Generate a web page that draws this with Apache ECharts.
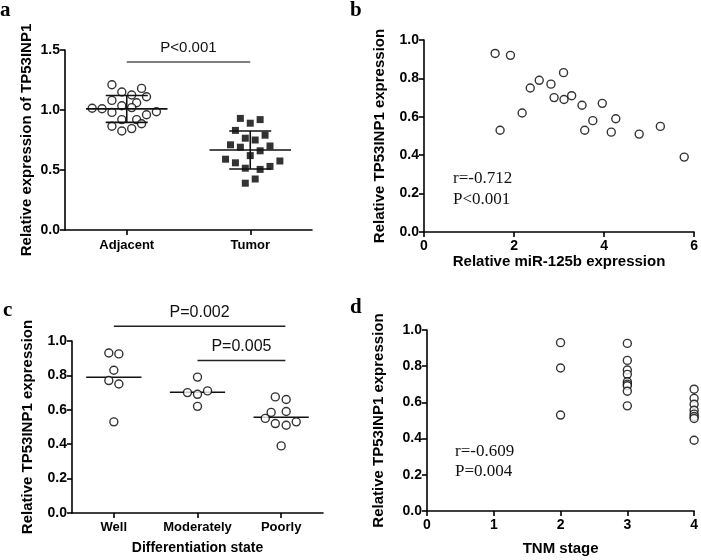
<!DOCTYPE html>
<html><head><meta charset="utf-8">
<script src="https://cdn.jsdelivr.net/npm/echarts@6/dist/echarts.min.js"></script>
<style>html,body{margin:0;padding:0;background:#fff}#chart{width:701px;height:560px}</style>
</head><body><div id="chart"></div>
<script>
// ---------- Panel a ----------
const aCategories = ['Adjacent', 'Tumor'];
const aAdjacentX = [0.88,0.96,1.04,1.12,1.16,0.88,1.08,0.72,0.80,0.96,1.04,1.24,0.88,1.16,0.96,1.08,0.88,1.12,1.04,0.96];
const aAdjacentY = [1.21,1.15,1.125,1.18,1.11,1.08,1.06,1.015,1.01,1.035,1.02,0.985,0.98,0.96,0.92,0.92,0.865,0.885,0.845,0.825];
const aTumorX = [1.92,2.00,2.08,1.88,2.12,1.96,2.04,1.84,1.92,2.16,2.08,2.00,1.80,1.88,2.24,1.96,2.08,2.16,1.96,2.04];
const aTumorY = [0.93,0.89,0.92,0.83,0.79,0.765,0.75,0.71,0.69,0.70,0.66,0.62,0.59,0.56,0.575,0.515,0.505,0.53,0.39,0.425];
const aPLabel = 'P<0.001';

// ---------- Panel b ----------
const bMiR = [1.58,1.92,1.69,2.18,2.36,2.56,2.82,2.89,3.10,3.11,3.28,3.51,3.57,3.75,3.96,4.16,4.26,4.78,5.25,5.78];
const bTP53 = [0.93,0.92,0.53,0.62,0.75,0.79,0.77,0.70,0.83,0.69,0.71,0.66,0.53,0.58,0.67,0.52,0.59,0.51,0.55,0.39];
const bStats = ['r=-0.712', 'P<0.001'];

// ---------- Panel c ----------
const cCategories = ['Well', 'Moderately', 'Poorly'];
const cWellX = [-0.06,0.06,0,-0.06,0.06,0];
const cWellY = [0.93,0.925,0.83,0.77,0.75,0.53];
const cModX = [0,-0.12,0,0.12,0];
const cModY = [0.79,0.70,0.69,0.71,0.62];
const cPoorX = [-0.07,0.06,-0.12,0.06,-0.19,-0.07,0.06,0.18,0];
const cPoorY = [0.675,0.66,0.585,0.59,0.55,0.52,0.51,0.53,0.39];
const cPLabels = ['P=0.002', 'P=0.005'];

// ---------- Panel d ----------
const dStage2 = [0.93,0.79,0.53];
const dStage3 = [0.926,0.832,0.779,0.755,0.714,0.701,0.692,0.662,0.581];
const dStage4 = [0.673,0.622,0.590,0.557,0.535,0.522,0.511,0.391];
const dStats = ['r=-0.609', 'P=0.004'];

// ---------- helpers ----------
const SANS = 'Liberation Sans, Arial, sans-serif';
const SERIF = 'Liberation Serif, Times New Roman, serif';
const zip = (xs, ys) => xs.map((x, i) => [x, ys[i]]);
const mean = a => a.reduce((s, v) => s + v, 0) / a.length;
const sd = a => { const m = mean(a); return Math.sqrt(a.reduce((s, v) => s + (v - m) * (v - m), 0) / (a.length - 1)); };

const axisLine = { show: true, onZero: false, lineStyle: { color: '#000', width: 1.6 } };
const axisTick = { show: true, inside: false, length: 5, lineStyle: { color: '#000', width: 1.6 } };
const tickLabel = { color: '#000', fontFamily: SANS, fontWeight: 'bold', fontSize: 13 };
const numLabel = Object.assign({}, tickLabel, { fontSize: 14 });
const nameStyle = { color: '#000', fontFamily: SANS, fontWeight: 'bold', fontSize: 15 };

function valueY(gridIndex, max, interval, gap) {
  return {
    type: 'value', gridIndex, min: 0, max, interval,
    axisLine, axisTick, splitLine: { show: false },
    axisLabel: Object.assign({ margin: 5, formatter: v => v.toFixed(1) }, numLabel),
    name: 'Relative TP53INP1 expression', nameLocation: 'middle', nameGap: gap, nameTextStyle: nameStyle
  };
}

const openCircle = { color: '#fff', borderColor: '#000', borderWidth: 1.4 };

// mean (+/- SD) line renderer
function meanLines(halfMean, halfSd, withSd) {
  return function (params, api) {
    const x = api.value(0), m = api.value(1), s = api.value(2);
    const style = { stroke: '#111', lineWidth: 1.6 };
    const p = (xx, yy) => api.coord([xx, yy]);
    const children = [];
    const l = p(x - halfMean, m), r = p(x + halfMean, m);
    children.push({ type: 'line', shape: { x1: l[0], y1: l[1], x2: r[0], y2: r[1] }, style });
    if (withSd) {
      const t1 = p(x - halfSd, m + s), t2 = p(x + halfSd, m + s);
      const b1 = p(x - halfSd, m - s), b2 = p(x + halfSd, m - s);
      const v1 = p(x, m + s), v2 = p(x, m - s);
      children.push({ type: 'line', shape: { x1: t1[0], y1: t1[1], x2: t2[0], y2: t2[1] }, style });
      children.push({ type: 'line', shape: { x1: b1[0], y1: b1[1], x2: b2[0], y2: b2[1] }, style });
      children.push({ type: 'line', shape: { x1: v1[0], y1: v1[1], x2: v2[0], y2: v2[1] }, style });
    }
    return { type: 'group', children };
  };
}

// significance line + label
function sigBracket(labels, color, fontSize) {
  return function (params, api) {
    const x1 = api.value(0), x2 = api.value(1), y = api.value(2);
    const a = api.coord([x1, y]), b = api.coord([x2, y]);
    return {
      type: 'group', children: [
        { type: 'line', shape: { x1: a[0], y1: a[1], x2: b[0], y2: b[1] }, style: { stroke: color, lineWidth: 1.6 } },
        { type: 'text', x: (a[0] + b[0]) / 2, y: a[1] - 14,
          style: { text: labels[params.dataIndex], fill: '#111', font: fontSize + 'px ' + SANS, align: 'center', verticalAlign: 'middle' } }
      ]
    };
  };
}

const option = {
  animation: false,
  backgroundColor: '#fff',
  grid: [
    { left: 65, top: 50, width: 247, height: 180 },
    { left: 424, top: 40, width: 273, height: 192 },
    { left: 72, top: 341, width: 251, height: 172 },
    { left: 427, top: 330, width: 270, height: 181 }
  ],
  xAxis: [
    { type: 'category', gridIndex: 0, data: aCategories, boundaryGap: true, axisLine, axisTick: Object.assign({ alignWithLabel: true }, axisTick),
      axisLabel: Object.assign({ margin: 9, interval: 0 }, tickLabel) },
    { type: 'value', gridIndex: 0, min: 0.5, max: 2.5, show: false },
    { type: 'value', gridIndex: 1, min: 0, max: 6, interval: 2, axisLine, axisTick, splitLine: { show: false },
      axisLabel: Object.assign({ margin: 7 }, numLabel),
      name: 'Relative miR-125b expression', nameLocation: 'middle', nameGap: 21, nameTextStyle: nameStyle },
    { type: 'category', gridIndex: 2, data: cCategories, boundaryGap: true, axisLine, axisTick: Object.assign({ alignWithLabel: true }, axisTick),
      axisLabel: Object.assign({ margin: 8, interval: 0, hideOverlap: false }, tickLabel),
      name: 'Differentiation state', nameLocation: 'middle', nameGap: 28, nameTextStyle: Object.assign({}, nameStyle, { fontSize: 14 }) },
    { type: 'value', gridIndex: 2, min: -0.5, max: 2.5, show: false },
    { type: 'value', gridIndex: 3, min: 0, max: 4, interval: 1, axisLine, axisTick, splitLine: { show: false },
      axisLabel: Object.assign({ margin: 7 }, numLabel),
      name: 'TNM stage', nameLocation: 'middle', nameGap: 30, nameTextStyle: nameStyle }
  ],
  yAxis: [
    Object.assign(valueY(0, 1.5, 0.5, 31), { name: 'Relative expression of TP53INP1' }),
    valueY(1, 1.0, 0.2, 37),
    valueY(2, 1.0, 0.2, 37),
    valueY(3, 1.0, 0.2, 41)
  ],
  series: [
    // a
    { type: 'scatter', xAxisIndex: 1, yAxisIndex: 0, symbol: 'circle', symbolSize: 8, itemStyle: openCircle, data: zip(aAdjacentX, aAdjacentY) },
    { type: 'scatter', xAxisIndex: 1, yAxisIndex: 0, symbol: 'rect', symbolSize: 7, itemStyle: { color: '#000' }, data: zip(aTumorX, aTumorY) },
    { type: 'custom', xAxisIndex: 1, yAxisIndex: 0, renderItem: meanLines(0.33, 0.17, true), z: 5,
      data: [[1, mean(aAdjacentY), sd(aAdjacentY)], [2, mean(aTumorY), sd(aTumorY)]] },
    { type: 'custom', xAxisIndex: 1, yAxisIndex: 0, renderItem: sigBracket([aPLabel], '#555', 15), clip: false,
      data: [[1, 2, 1.40]] },
    // b
    { type: 'scatter', xAxisIndex: 2, yAxisIndex: 1, symbolSize: 8, itemStyle: openCircle, data: zip(bMiR, bTP53) },
    // c
    { type: 'scatter', xAxisIndex: 4, yAxisIndex: 2, symbolSize: 8, itemStyle: openCircle, data: zip(cWellX, cWellY) },
    { type: 'scatter', xAxisIndex: 4, yAxisIndex: 2, symbolSize: 8, itemStyle: openCircle, data: zip(cModX.map(v => v + 1), cModY) },
    { type: 'scatter', xAxisIndex: 4, yAxisIndex: 2, symbolSize: 8, itemStyle: openCircle, data: zip(cPoorX.map(v => v + 2), cPoorY) },
    { type: 'custom', xAxisIndex: 4, yAxisIndex: 2, renderItem: meanLines(0.33, 0, false), z: 1,
      data: [[0, mean(cWellY), 0], [1, mean(cModY), 0], [2, mean(cPoorY), 0]] },
    { type: 'custom', xAxisIndex: 4, yAxisIndex: 2, renderItem: sigBracket(cPLabels, '#222', 16), clip: false,
      data: [[0, 2.05, 1.086], [1, 2.05, 0.887]] },
    // d
    { type: 'scatter', xAxisIndex: 5, yAxisIndex: 3, symbolSize: 8, itemStyle: openCircle,
      data: [].concat(dStage2.map(v => [2, v]), dStage3.map(v => [3, v]), dStage4.map(v => [4, v])) }
  ],
  graphic: [
    { type: 'text', left: 0, top: 0, style: { text: 'a', font: 'bold 21px ' + SERIF, fill: '#000' } },
    { type: 'text', left: 350, top: 0, style: { text: 'b', font: 'bold 21px ' + SERIF, fill: '#000' } },
    { type: 'text', left: 3, top: 300, style: { text: 'c', font: 'bold 21px ' + SERIF, fill: '#000' } },
    { type: 'text', left: 350, top: 297, style: { text: 'd', font: 'bold 21px ' + SERIF, fill: '#000' } },
    { type: 'text', x: 453, y: 168, style: { text: bStats.join('\n'), font: '17px ' + SERIF, lineHeight: 21, fill: '#111' } },
    { type: 'text', x: 455, y: 442, style: { text: dStats.join('\n'), font: '17px ' + SERIF, lineHeight: 20, fill: '#111' } }
  ]
};

const chart = echarts.init(document.getElementById('chart'), null, { renderer: 'canvas' });
chart.setOption(option);
</script>
</body></html>
